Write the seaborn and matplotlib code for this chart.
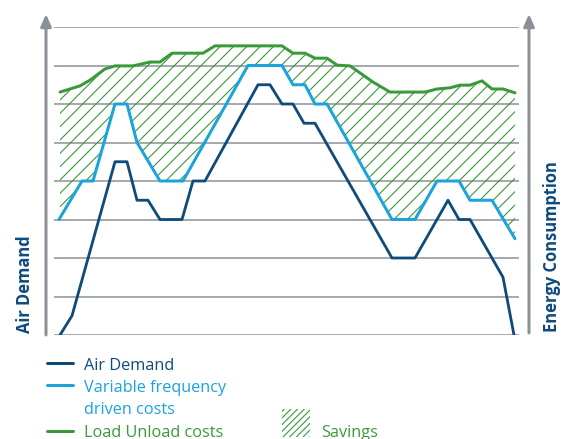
import numpy as np
import matplotlib
matplotlib.use("Agg")
import matplotlib.pyplot as plt
import seaborn as sns
from matplotlib.patches import FancyArrowPatch, Rectangle
from matplotlib.lines import Line2D

# ---------------- data (time in arbitrary units, level 0..8) ----------------
air_x = [6, 18, 61, 73, 83, 94, 106, 128, 139, 151, 204, 216, 228, 239, 250, 261,
         338, 361, 394, 405, 416, 449, 460]
air_y = [0, 0.5, 4.5, 4.5, 3.5, 3.5, 3, 3, 4, 4, 6.5, 6.5, 6, 6, 5.5, 5.5,
         2, 2, 3.5, 3, 3, 1.5, 0]

vfd_x = [5, 28, 39, 61, 73, 83, 106, 129, 194, 228, 239, 251, 261, 273, 338, 361,
         383, 405, 416, 438, 461]
vfd_y = [3, 4, 4, 6, 6, 5, 4, 4, 7, 7, 6.5, 6.5, 6, 6, 3, 3,
         4, 4, 3.5, 3.5, 2.5]

lu_x = [6, 26, 36, 51, 61, 79, 96, 106, 118, 149, 161, 228, 239, 251, 261, 273,
        283, 296, 319, 336, 371, 383, 396, 406, 416, 428, 438, 449, 461]
lu_y = [6.31, 6.47, 6.62, 6.91, 6.99, 6.99, 7.09, 7.09, 7.32, 7.32, 7.51, 7.51,
        7.32, 7.32, 7.19, 7.19, 7.01, 6.99, 6.57, 6.31, 6.31, 6.39, 6.42, 6.49,
        6.49, 6.60, 6.39, 6.39, 6.29]

series_labels = ["Air Demand", "Variable frequency\ndriven costs", "Load Unload costs"]
savings_label = "Savings"
left_label = "Air Demand"
right_label = "Energy Consumption"

# ---------------- style ----------------
NAVY = "#0e4b7d"
BLUE = "#1ba3de"
GREEN = "#3a9a3a"
GRAY = "#8b9096"

sns.set_style("white")
plt.rcParams["font.family"] = ["Open Sans", "DejaVu Sans"]
plt.rcParams["hatch.linewidth"] = 1.0

DPI = 80
W, H = 571, 439


def P(px):
    return px * 72.0 / DPI


def fx(px):
    return px / W


def fy(py):
    return 1 - py / H


fig = plt.figure(figsize=(W / DPI, H / DPI), dpi=DPI)
ax = fig.add_axes([fx(54), fy(335), (519 - 54) / W, (335 - 27) / H])
ax.set_xlim(0, 465)
ax.set_ylim(0, 8)
for s in ax.spines.values():
    s.set_visible(False)
ax.set_xticks([])
ax.set_yticks(range(0, 9))
ax.set_yticklabels([])
ax.tick_params(length=0)
ax.grid(axis="y", color=GRAY, lw=P(1.5))
ax.set_axisbelow(True)

# savings hatch between load/unload and VFD
grid_x = np.union1d(vfd_x, lu_x)
grid_x = grid_x[(grid_x >= max(vfd_x[0], lu_x[0])) & (grid_x <= min(vfd_x[-1], lu_x[-1]))]
top = np.interp(grid_x, lu_x, lu_y)
bot = np.interp(grid_x, vfd_x, vfd_y)
ax.fill_between(grid_x, bot, top, facecolor="none", edgecolor=GREEN, hatch="//",
                linewidth=0, zorder=1)

sns.lineplot(x=air_x, y=air_y, ax=ax, color=NAVY, lw=P(2.8), sort=False,
             estimator=None, zorder=3)
sns.lineplot(x=vfd_x, y=vfd_y, ax=ax, color=BLUE, lw=P(3.0), sort=False,
             estimator=None, zorder=3)
sns.lineplot(x=lu_x, y=lu_y, ax=ax, color=GREEN, lw=P(3.0), sort=False,
             estimator=None, zorder=3)

# axis arrows
for ax_x, bottom in [(46, 335), (529, 333)]:
    arr = FancyArrowPatch((fx(ax_x), fy(bottom)), (fx(ax_x), fy(14)),
                          transform=fig.transFigure,
                          arrowstyle="-|>,head_length=0.5,head_width=0.22",
                          mutation_scale=P(20), lw=P(3), color=GRAY,
                          shrinkA=0, shrinkB=0)
    fig.add_artist(arr)

fig.text(fx(25), fy(333), left_label, rotation=90, ha="center", va="bottom",
         color=NAVY, fontsize=P(16.5), fontweight="bold")
fig.text(fx(552), fy(332), right_label, rotation=90, ha="center", va="bottom",
         color=NAVY, fontsize=P(16.5), fontweight="bold")

# legend
FS = P(16.2)
for (hy, ty, lab, col) in [(363, 370, series_labels[0], NAVY),
                           (385, 414, series_labels[1], BLUE),
                           (431, 437, series_labels[2], GREEN)]:
    fig.add_artist(Line2D([fx(47), fx(73)], [fy(hy), fy(hy)],
                          transform=fig.transFigure, color=col, lw=P(3)))
    fig.text(fx(84), fy(ty), lab, ha="left", va="baseline", color=col,
             fontsize=FS, linespacing=1.5)

fig.add_artist(Rectangle((fx(282), fy(437)), (310 - 282) / W, (437 - 409) / H,
                         transform=fig.transFigure, facecolor="none",
                         edgecolor=GREEN, hatch="////", lw=0))
fig.text(fx(321), fy(437), savings_label, ha="left", va="baseline", color=GREEN,
         fontsize=FS)

fig.savefig("out.png", dpi=DPI)
